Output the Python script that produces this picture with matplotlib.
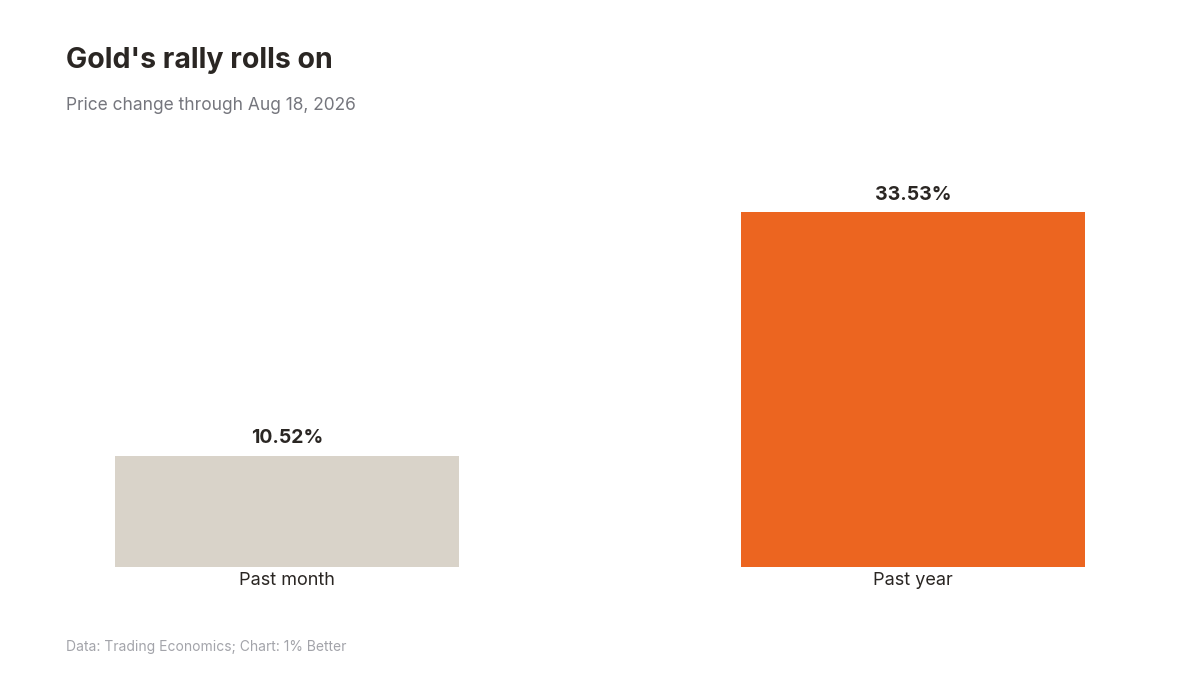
import matplotlib
matplotlib.use('Agg')
import matplotlib.pyplot as plt

# Daten
categories = ['Past month', 'Past year']
values = [10.52, 33.53]
bar_colors = ['#D9D3C9', '#EC6520']

title = "Gold's rally rolls on"
subtitle = 'Price change through Aug 18, 2026'
source = 'Data: Trading Economics; Chart: 1% Better'

plt.rcParams['font.family'] = ['Inter', 'DejaVu Sans']

fig = plt.figure(figsize=(12, 6.75), dpi=100)
fig.patch.set_facecolor('white')

# Achse so legen, dass Balken bei ca. 115-459 px und 741-1085 px liegen
ax = fig.add_axes([66 / 1200, 1 - 567 / 675, 1068 / 1200, 417 / 675])
x = range(len(categories))
bars = ax.bar(x, values, width=0.55, color=bar_colors)

ax.set_xlim(-0.353, 1.353)
ax.set_ylim(0, 33.53 * 417 / 355)

for b, v in zip(bars, values):
    ax.annotate(f'{v:.2f}%', (b.get_x() + b.get_width() / 2, v),
                xytext=(0, 6), textcoords='offset points',
                ha='center', va='bottom', fontsize=14, fontweight='bold',
                color='#2a2623')

ax.set_xticks(list(x))
ax.set_xticklabels(categories, fontsize=13, color='#2a2623')
ax.tick_params(axis='x', length=0, pad=3.5)
ax.set_yticks([])
for s in ax.spines.values():
    s.set_visible(False)

fig.text(66 / 1200, 1 - 60 / 675, title, fontsize=20.5, fontweight='bold',
         color='#2a2623', va='center', ha='left')
fig.text(66 / 1200, 1 - 106 / 675, subtitle, fontsize=12.5,
         color='#75767d', va='center', ha='left')
fig.text(66 / 1200, 1 - 647 / 675, source, fontsize=10,
         color='#a3a4aa', va='center', ha='left')

fig.savefig('out.png', dpi=100, facecolor='white')
